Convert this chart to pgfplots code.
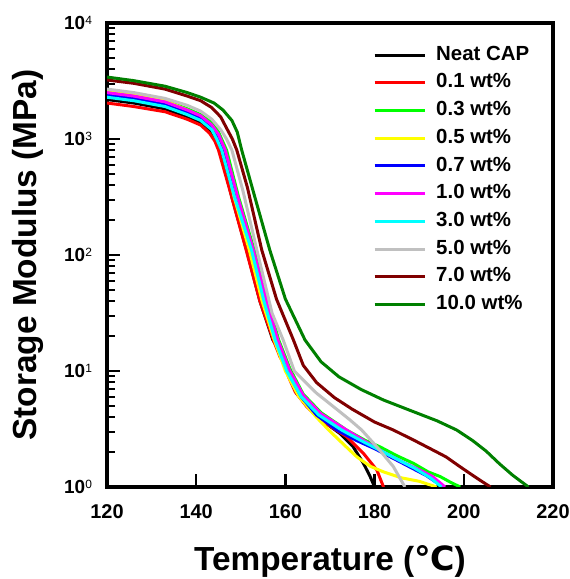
\documentclass[border=0pt]{standalone}
\usepackage{pgfplots}
\pgfplotsset{compat=1.18}
\usepackage{fontspec}
\setmainfont{Liberation Sans}
\newfontfamily\dejavu{DejaVu Sans}
\newcommand{\expo}[1]{\raisebox{5.5bp}{\fontsize{12}{12}\selectfont\mdseries #1}}
\definecolor{cred}{RGB}{255,0,0}
\definecolor{cgreen}{RGB}{0,255,0}
\definecolor{cyel}{RGB}{255,255,0}
\definecolor{cblue}{RGB}{0,0,255}
\definecolor{cmag}{RGB}{255,0,255}
\definecolor{ccyan}{RGB}{0,255,255}
\definecolor{cgrey}{RGB}{192,192,192}
\definecolor{cbrown}{RGB}{128,0,0}
\definecolor{cdgreen}{RGB}{0,128,0}
\begin{document}
\begin{tikzpicture}
\path[use as bounding box] (0,0) rectangle (570bp,579bp);
\begin{axis}[
    at={(107bp,92bp)}, anchor=south west,
    scale only axis,
    width=446bp, height=464bp,
    ymode=log,
    xmin=120, xmax=220, ymin=1, ymax=10000,
    xtick={120,140,...,220},
    ytick={1,10,100,1000,10000},
    yticklabels={10\expo{0},10\expo{1},10\expo{2},10\expo{3},10\expo{4}},
    xtick pos=bottom, ytick pos=left,
    tick align=inside,
    major tick length=13bp, minor tick length=8bp,
    line width=3.5bp,
    axis line style={line width=3.5bp},
    major tick style={line width=2.5bp, black},
    minor tick style={line width=2bp, black},
    /pgf/number format/assume math mode=true,
    /pgf/number format/1000 sep={},
    xticklabel style={font=\fontsize{20}{20}\selectfont\bfseries, yshift=-13bp},
    yticklabel style={font=\fontsize{19}{19}\selectfont\bfseries, xshift=-10bp},
    xlabel={Temperature ({\dejavu\bfseries ℃})},
    ylabel={Storage Modulus (MPa)},
    label style={font=\fontsize{33.5}{33.5}\selectfont\bfseries},
    xlabel style={at={(axis description cs:0.5,-0.160)}, anchor=center},
    ylabel style={at={(axis description cs:-0.178,0.5)}, anchor=center},
    legend image code/.code={\draw[#1] (0bp,0bp) -- (50bp,0bp);},
    legend cell align=left,
    legend style={at={(0.593,0.9644)}, anchor=north west, draw=none, fill=none,
        inner sep=0pt, row sep=0pt,
        font=\fontsize{20.5}{20.5}\selectfont\bfseries,
        nodes={inner sep=0pt, text height=19bp, text depth=8.7bp},
        /tikz/every odd column/.append style={column sep=10bp}},
    every axis plot/.append style={line width=3bp, line join=round},
]
\addplot[black] coordinates {
(120,2188) (126,2042) (133,1820) (138,1549) (141,1380) (143,1175) (144.3,977)
(145.3,803) (148,316) (151.3,110.4) (154.3,39.8) (157.2,18.5) (159.5,13.2)
(162.5,6.43) (167,4.04) (172.2,2.90) (175.2,2.22) (177.5,1.60) (179,1.23) (180,1.0)
};
\addlegendentry{Neat CAP}
\addplot[cred] coordinates {
(120,2042) (126,1905) (133,1718) (138,1479) (141,1318) (143,1122) (144.2,955)
(145.0,803) (147.6,355) (151.2,110.4) (154.3,39.8) (157.3,18.5) (158.8,13.2)
(159.9,11.2) (160.7,8.91) (162.2,6.61) (164.8,4.92) (168.5,3.63) (173.7,2.72)
(177.5,1.95) (180.5,1.40) (182,1.0)
};
\addlegendentry{0.1 wt\%}
\addplot[cgreen] coordinates {
(120,2570) (126,2399) (133,2138) (138,1820) (141,1622) (143.5,1380) (145,1148)
(146.8,803) (149.5,316) (153.0,110.4) (156,39.8) (158.5,18.5) (161,10.5)
(164,6.31) (168,4.37) (173.7,3.10) (178,2.51) (181.2,2.22) (185,1.86)
(188.7,1.60) (192,1.35) (194.7,1.23) (197,1.10) (199.2,1.0)
};
\addlegendentry{0.3 wt\%}
\addplot[cyel] coordinates {
(120,2630) (126,2455) (133,2138) (138,1778) (141,1549) (143.5,1259) (145,1000)
(146.2,803) (148.5,316) (151.9,110.4) (154.8,39.8) (157.5,18.5) (160,10.0)
(163,6.03) (167,3.98) (170,3.02) (173,2.34) (176,1.82) (179,1.51) (182,1.35)
(186,1.20) (190,1.12) (193.9,1.0)
};
\addlegendentry{0.5 wt\%}
\addplot[cblue] coordinates {
(120,2399) (126,2239) (133,1995) (138,1698) (141,1514) (143.5,1259) (144.8,1047)
(145.9,803) (148.8,316) (152.6,110.4) (155.5,39.8) (158.0,18.5) (160.5,10.0)
(163.5,6.03) (167,4.17) (171.5,3.10) (176,2.51) (180,2.14) (184,1.78)
(188,1.48) (191.5,1.26) (195.4,1.0)
};
\addlegendentry{0.7 wt\%}
\addplot[cmag] coordinates {
(120,2512) (126,2344) (133,2089) (138,1778) (141,1585) (143.5,1318) (145,1096)
(146.5,803) (149.3,316) (152.8,110.4) (155.8,39.8) (158.3,18.5) (161,10.0)
(164,6.17) (168,4.27) (173.7,3.10) (178,2.455) (182,2.0) (186,1.66)
(190,1.41) (193,1.23) (195.8,1.0)
};
\addlegendentry{1.0 wt\%}
\addplot[ccyan] coordinates {
(120,2291) (126,2138) (133,1905) (138,1622) (141,1445) (143.5,1202) (144.6,1000)
(145.7,803) (148.6,316) (152.4,110.4) (155.2,39.8) (157.7,18.5) (160.3,10.0)
(163.5,6.03) (167.5,4.17) (172.6,3.10) (177,2.51) (181,2.09) (185,1.74)
(189,1.45) (192.5,1.20) (195.0,1.0)
};
\addlegendentry{3.0 wt\%}
\addplot[cgrey] coordinates {
(120,2692) (126,2512) (133,2239) (138,1950) (141,1738) (143.5,1479) (145.5,1202)
(146.8,1000) (148.0,803) (150.5,355) (153.6,110.4) (157,31.6) (159.5,18.5) (162,10.0)
(167,6.43) (172,4.52) (174.5,3.78) (177.1,3.10) (180.5,2.22) (184.2,1.50) (186.8,1.0)
};
\addlegendentry{5.0 wt\%}
\addplot[cbrown] coordinates {
(120,3228) (126,3020) (133,2692) (138,2344) (141,2138) (143.5,1862) (145.5,1549)
(147,1202) (148.1,1000) (149.1,803) (151.5,380) (154.7,110.4) (158,41.7) (161.8,18.5)
(164,11.2) (167,7.94) (171,5.89) (175,4.68) (180,3.63) (184.2,3.10) (189,2.51)
(193,2.09) (196,1.82) (199,1.51) (202,1.26) (204,1.12) (206,1.0)
};
\addlegendentry{7.0 wt\%}
\addplot[cdgreen] coordinates {
(120,3420) (126,3184) (133,2851) (138,2512) (141,2291) (144,2042) (146,1778)
(148,1445) (149.2,1148) (150.2,803) (153,331) (156.5,110.4) (160,41.7) (164.4,18.5)
(168,12.0) (172,8.91) (177,6.92) (182,5.62) (188,4.57) (194,3.72) (198.4,3.10)
(202,2.51) (205,2.04) (208,1.585) (211,1.259) (214.5,1.0)
};
\addlegendentry{10.0 wt\%}
\end{axis}
\end{tikzpicture}
\end{document}
